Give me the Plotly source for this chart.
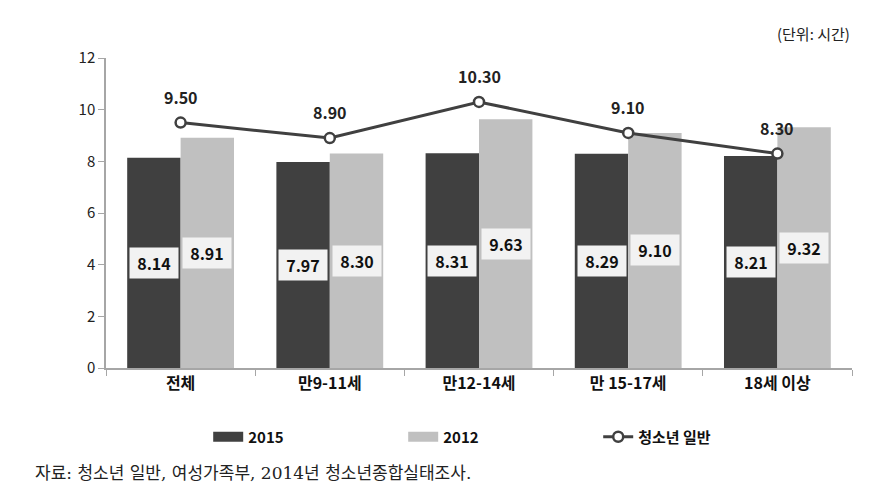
import plotly.graph_objects as go

categories = ["전체", "만9-11세", "만12-14세", "만 15-17세", "18세 이상"]
v2015 = [8.14, 7.97, 8.31, 8.29, 8.21]
v2012 = [8.91, 8.30, 9.63, 9.10, 9.32]
youth = [9.50, 8.90, 10.30, 9.10, 8.30]
y_ticks = [0, 2, 4, 6, 8, 10, 12]

FONT = "Noto Sans CJK KR"
DARK = "#404040"
LIGHT = "#C0C0C0"

fig = go.Figure()
fig.add_trace(go.Bar(x=categories, y=v2015, name="2015", showlegend=False,
                     marker=dict(color=DARK, line=dict(width=0))))
fig.add_trace(go.Bar(x=categories, y=v2012, name="2012", showlegend=False,
                     marker=dict(color=LIGHT, line=dict(width=0))))
# legend proxies (wide rectangles like the reference legend)
fig.add_trace(go.Scatter(x=[None], y=[None], name="<b>2015</b>", mode="lines",
                         line=dict(color=DARK, width=12)))
fig.add_trace(go.Scatter(x=[None], y=[None], name="<b>2012</b>", mode="lines",
                         line=dict(color=LIGHT, width=12)))
fig.add_trace(go.Scatter(x=categories, y=youth, name="<b>청소년 일반</b>", mode="lines+markers",
                         line=dict(color=DARK, width=3),
                         marker=dict(symbol="circle", size=10, color="white",
                                     line=dict(color=DARK, width=2.5))))

annotations = []
for c, a, b in zip(categories, v2015, v2012):
    for val, shift in ((a, -26.7), (b, 26.7)):
        annotations.append(dict(x=c, y=val / 2, xref="x", yref="y", text=f"<b>{val:.2f}</b>",
                                showarrow=False, xshift=shift, bgcolor="#F2F2F2",
                                width=40, height=22, borderpad=4,
                                font=dict(family=FONT, size=16, color="#111")))
for c, val in zip(categories, youth):
    annotations.append(dict(x=c, y=val, xref="x", yref="y", text=f"<b>{val:.2f}</b>",
                            showarrow=False, yshift=26,
                            font=dict(family=FONT, size=16, color="#222")))
annotations.append(dict(x=1, y=(368 - 33) / 310, xref="paper", yref="paper", xanchor="right", yanchor="middle",
                        text="(단위: 시간)", showarrow=False,
                        font=dict(family=FONT, size=15, color="#222")))
annotations.append(dict(x=(33 - 106) / 746, y=-(473 - 368) / 310, xref="paper", yref="paper",
                        xanchor="left", yanchor="middle",
                        text="자료: 청소년 일반, 여성가족부, 2014년 청소년종합실태조사.", showarrow=False,
                        font=dict(family="DejaVu Serif, " + FONT, size=17, color="#222")))

fig.update_layout(
    width=892, height=496,
    margin=dict(l=106, r=40, t=58, b=128),
    paper_bgcolor="white", plot_bgcolor="white",
    barmode="group", bargap=0.284, bargroupgap=0,
    font=dict(family=FONT, size=15, color="#222"),
    showlegend=True,
    legend=dict(orientation="h", x=0.137, y=-(437 - 368) / 310, xanchor="left", yanchor="middle",
                entrywidth=150, entrywidthmode="pixels", traceorder="normal",
                font=dict(family=FONT, size=15, color="#111")),
    annotations=annotations,
)
fig.update_xaxes(type="category", range=[-0.5, 4.5], showline=True, linecolor="#A6A6A6", linewidth=1.5,
                 ticks="outside", tickson="boundaries", ticklen=6, tickcolor="#A6A6A6",
                 showgrid=False, tickfont=dict(family=FONT, size=16, color="#111"),
                 tickvals=categories, ticktext=[f"<b>{c}</b>" for c in categories])
fig.update_yaxes(range=[0, 12], tickvals=y_ticks, showline=True, linecolor="#A6A6A6", linewidth=1.5,
                 ticks="outside", ticklen=6, tickcolor="#A6A6A6", showgrid=False, zeroline=False,
                 tickfont=dict(family=FONT, size=15, color="#222"))

fig.write_html("out.html")
